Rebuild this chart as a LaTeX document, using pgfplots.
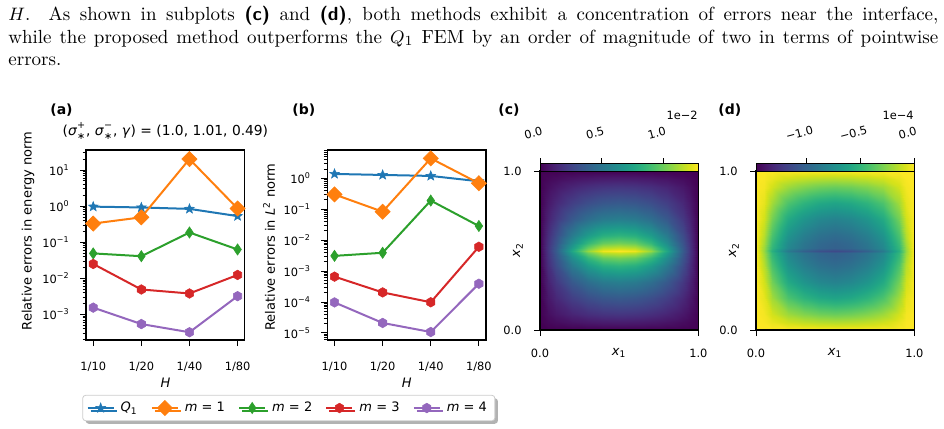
\documentclass[border=0pt]{standalone}
\usepackage{fontspec}
\usepackage{amsmath}
\usepackage{pgfplots}
\pgfplotsset{compat=1.18}
\newfontfamily\dv{DejaVu Sans}[ItalicFont={DejaVu Sans Oblique},BoldFont={DejaVu Sans Bold},BoldItalicFont={DejaVu Sans Bold Oblique}]
\newcommand\cf{\dv\fontsize{6.5}{7.8}\selectfont}
\newcommand\ttf{\dv\fontsize{6.9}{8.2}\selectfont}
\newcommand\tf{\dv\fontsize{5.7}{6.8}\selectfont}
\newcommand\lf{\dv\bfseries\fontsize{7}{8.4}\selectfont}
\definecolor{C0}{HTML}{1F77B4}
\definecolor{C1}{HTML}{FF7F0E}
\definecolor{C2}{HTML}{2CA02C}
\definecolor{C3}{HTML}{D62728}
\definecolor{C4}{HTML}{9467BD}
\pgfdeclareplotmark{mstar}{%
 \pgfpathmoveto{\pgfpointpolar{90}{\pgfplotmarksize}}%
 \pgfpathlineto{\pgfpointpolar{126}{0.42\pgfplotmarksize}}%
 \pgfpathlineto{\pgfpointpolar{162}{\pgfplotmarksize}}%
 \pgfpathlineto{\pgfpointpolar{198}{0.42\pgfplotmarksize}}%
 \pgfpathlineto{\pgfpointpolar{234}{\pgfplotmarksize}}%
 \pgfpathlineto{\pgfpointpolar{270}{0.42\pgfplotmarksize}}%
 \pgfpathlineto{\pgfpointpolar{306}{\pgfplotmarksize}}%
 \pgfpathlineto{\pgfpointpolar{342}{0.42\pgfplotmarksize}}%
 \pgfpathlineto{\pgfpointpolar{18}{\pgfplotmarksize}}%
 \pgfpathlineto{\pgfpointpolar{54}{0.42\pgfplotmarksize}}%
 \pgfpathclose\pgfusepathqfillstroke}
\pgfdeclareplotmark{bdiam}{%
 \pgfpathmoveto{\pgfpoint{0pt}{\pgfplotmarksize}}%
 \pgfpathlineto{\pgfpoint{\pgfplotmarksize}{0pt}}%
 \pgfpathlineto{\pgfpoint{0pt}{-\pgfplotmarksize}}%
 \pgfpathlineto{\pgfpoint{-\pgfplotmarksize}{0pt}}%
 \pgfpathclose\pgfusepathqfillstroke}
\pgfdeclareplotmark{tdiam}{%
 \pgfpathmoveto{\pgfpoint{0pt}{\pgfplotmarksize}}%
 \pgfpathlineto{\pgfpoint{0.68\pgfplotmarksize}{0pt}}%
 \pgfpathlineto{\pgfpoint{0pt}{-\pgfplotmarksize}}%
 \pgfpathlineto{\pgfpoint{-0.68\pgfplotmarksize}{0pt}}%
 \pgfpathclose\pgfusepathqfillstroke}
\pgfdeclareplotmark{hexa}{%
 \pgfpathmoveto{\pgfpointpolar{90}{\pgfplotmarksize}}%
 \pgfpathlineto{\pgfpointpolar{150}{\pgfplotmarksize}}%
 \pgfpathlineto{\pgfpointpolar{210}{\pgfplotmarksize}}%
 \pgfpathlineto{\pgfpointpolar{270}{\pgfplotmarksize}}%
 \pgfpathlineto{\pgfpointpolar{330}{\pgfplotmarksize}}%
 \pgfpathlineto{\pgfpointpolar{30}{\pgfplotmarksize}}%
 \pgfpathclose\pgfusepathqfillstroke}
\tikzset{
 sQ/.style={C0, line width=1pt, mark=mstar, mark size=2.5pt, mark options={fill=C0, line width=0.3pt}},
 s1/.style={C1, line width=1pt, mark=bdiam, mark size=3.8pt, mark options={fill=C1, line width=0.3pt}},
 s2/.style={C2, line width=1pt, mark=tdiam, mark size=2.8pt, mark options={fill=C2, line width=0.3pt}},
 s3/.style={C3, line width=1pt, mark=hexa, mark size=2.4pt, mark options={fill=C3, line width=0.3pt}},
 s4/.style={C4, line width=1pt, mark=hexa, mark size=2.4pt, mark options={fill=C4, line width=0.3pt}}
}
\begin{document}
\begin{tikzpicture}
\path[use as bounding box] (0,0) rectangle (472pt,-214.5pt);
\begin{scope}[font=\fontsize{9.5}{11.25}\selectfont]
\node[anchor=base west, inner sep=0pt] at (4pt,-10.25pt) {\makebox[465pt][s]{$H$. As shown in subplots \textsf{\textbf{(c)}} and \textsf{\textbf{(d)}}, both methods exhibit a concentration of errors near the interface,}};
\node[anchor=base west, inner sep=0pt] at (4pt,-21.5pt) {\makebox[465pt][s]{while the proposed method outperforms the $Q_1$ FEM by an order of magnitude of two in terms of pointwise}};
\node[anchor=base west, inner sep=0pt] at (4pt,-32.75pt) {errors.};
\end{scope}
\node[anchor=west, inner sep=0pt, font=\lf] at (25pt,-55pt) {(a)};
\node[anchor=west, inner sep=0pt, font=\lf] at (146pt,-55pt) {(b)};
\node[anchor=west, inner sep=0pt, font=\lf] at (249pt,-55pt) {(c)};
\node[anchor=west, inner sep=0pt, font=\lf] at (359pt,-55pt) {(d)};
\node[anchor=east, inner sep=0pt, font=\tf] at (349pt,-57.5pt) {1e−2};
\node[anchor=east, inner sep=0pt, font=\tf] at (457pt,-57.5pt) {1e−4};

% (a)
\begin{axis}[at={(43pt,-170pt)}, anchor=south west, scale only axis, width=79.4pt, height=95pt,
 ymode=log, xmin=-0.15, xmax=3.15, ymin=1.95e-4, ymax=36,
 xtick={0,1,2,3}, xticklabels={1/10,1/20,1/40,1/80},
 xtick pos=lower, ytick pos=left, tick align=outside,
 major tick length=3pt, minor tick length=1.7pt,
 every tick/.style={black, line width=0.45pt},
 axis line style={line width=0.6pt},
 tick label style={font=\tf}, label style={font=\cf},
 xticklabel style={anchor=center, yshift=-10.5pt},
 yticklabel style={anchor=east, inner sep=0pt, xshift=-5pt},
 xlabel={\textit{H}}, xlabel style={at={(axis description cs:0.5,-0.226)}, anchor=center},
 clip=false,
 ytick={1e-3,1e-2,1e-1,1,10},
 yticklabels={$\text{10}^{\text{−3}}$,$\text{10}^{\text{−2}}$,$\text{10}^{\text{−1}}$,$\text{10}^{\text{0}}$,$\text{10}^{\text{1}}$},
 minor ytick={2e-4,3e-4,4e-4,5e-4,6e-4,7e-4,8e-4,9e-4,2e-3,3e-3,4e-3,5e-3,6e-3,7e-3,8e-3,9e-3,2e-2,3e-2,4e-2,5e-2,6e-2,7e-2,8e-2,9e-2,0.2,0.3,0.4,0.5,0.6,0.7,0.8,0.9,2,3,4,5,6,7,8,9,20,30},
 ylabel={Relative errors in energy norm},
 ylabel style={at={(axis description cs:-0.365,0.574)}, anchor=center},
 title={($\text{\textit{σ}}^{\text{+}}_{\text{∗}}$, $\text{\textit{σ}}^{\text{−}}_{\text{∗}}$, \textit{γ}) = (1.0, 1.01, 0.49)},
 title style={font=\ttf, at={(axis description cs:0.5,1.037)}, anchor=center, yshift=0pt},
 legend columns=5,
 legend style={at={(1.277,-0.358)}, anchor=center, font=\cf, draw=black!20, fill=white, rounded corners=1.5pt,
  preaction={fill=black!30, transform canvas={xshift=1.5pt, yshift=-1.5pt}},
  inner xsep=2pt, inner ysep=1.2pt,
  /tikz/every odd column/.append style={column sep=1pt},
  /tikz/every even column/.append style={column sep=4.6pt}},
 legend image code/.code={\draw[mark repeat=2, mark phase=2, #1] plot coordinates {(0pt,0pt) (6.5pt,0pt) (13pt,0pt)};}
]
\addplot[sQ] coordinates {(0,0.97) (1,0.92) (2,0.84) (3,0.53)};
\addlegendentry{$\text{\textit{Q}}_{\text{1}}$}
\addplot[s1] coordinates {(0,0.33) (1,0.49) (2,20.2) (3,0.86)};
\addlegendentry{\textit{m} = 1}
\addplot[s2] coordinates {(0,0.049) (1,0.041) (2,0.186) (3,0.063)};
\addlegendentry{\textit{m} = 2}
\addplot[s3] coordinates {(0,0.025) (1,0.0049) (2,0.0038) (3,0.0124)};
\addlegendentry{\textit{m} = 3}
\addplot[s4] coordinates {(0,0.00154) (1,0.00054) (2,0.00032) (3,0.0032)};
\addlegendentry{\textit{m} = 4}
\end{axis}

% (b)
\begin{axis}[at={(163.65pt,-170pt)}, anchor=south west, scale only axis, width=79.4pt, height=95pt,
 ymode=log, xmin=-0.15, xmax=3.15, ymin=5.9e-6, ymax=8.2,
 xtick={0,1,2,3}, xticklabels={1/10,1/20,1/40,1/80},
 xtick pos=lower, ytick pos=left, tick align=outside,
 major tick length=3pt, minor tick length=1.7pt,
 every tick/.style={black, line width=0.45pt},
 axis line style={line width=0.6pt},
 tick label style={font=\tf}, label style={font=\cf},
 xticklabel style={anchor=center, yshift=-10.5pt},
 yticklabel style={anchor=east, inner sep=0pt, xshift=-5pt},
 xlabel={\textit{H}}, xlabel style={at={(axis description cs:0.5,-0.226)}, anchor=center},
 clip=false,
 ytick={1e-5,1e-4,1e-3,1e-2,1e-1,1},
 yticklabels={$\text{10}^{\text{−5}}$,$\text{10}^{\text{−4}}$,$\text{10}^{\text{−3}}$,$\text{10}^{\text{−2}}$,$\text{10}^{\text{−1}}$,$\text{10}^{\text{0}}$},
 minor ytick={6e-6,7e-6,8e-6,9e-6,2e-5,3e-5,4e-5,5e-5,6e-5,7e-5,8e-5,9e-5,2e-4,3e-4,4e-4,5e-4,6e-4,7e-4,8e-4,9e-4,2e-3,3e-3,4e-3,5e-3,6e-3,7e-3,8e-3,9e-3,2e-2,3e-2,4e-2,5e-2,6e-2,7e-2,8e-2,9e-2,0.2,0.3,0.4,0.5,0.6,0.7,0.8,0.9,2,3,4,5,6,7,8},
 ylabel={Relative errors in $\text{\textit{L}}^{\text{2}}$ norm},
 ylabel style={at={(axis description cs:-0.367,0.489)}, anchor=center}]
\addplot[sQ] coordinates {(0,1.38) (1,1.28) (2,1.19) (3,0.8)};
\addplot[s1] coordinates {(0,0.30) (1,0.083) (2,4.4) (3,0.69)};
\addplot[s2] coordinates {(0,0.0031) (1,0.0039) (2,0.19) (3,0.0286)};
\addplot[s3] coordinates {(0,0.00066) (1,0.000204) (2,0.000098) (3,0.0061)};
\addplot[s4] coordinates {(0,9.7e-5) (1,2.1e-5) (2,1.07e-5) (3,3.9e-4)};
\end{axis}

% (c)
\begin{axis}[at={(270pt,-165pt)}, anchor=south west, scale only axis, width=79.2pt, height=79.5pt,
 xmin=0, xmax=1, ymin=0, ymax=1, xtick={0,1}, ytick={0,1},
 xticklabels={0.0,1.0}, yticklabels={0.0,1.0},
 xtick pos=lower, ytick pos=left, tick align=outside, major tick length=3pt,
 every tick/.style={black, line width=0.5pt}, axis line style={line width=0.6pt},
 axis on top, tick label style={font=\tf}, label style={font=\cf},
 xticklabel style={anchor=center, yshift=-8.5pt},
 yticklabel style={anchor=east, inner sep=0pt, xshift=-6pt},
 xlabel={$\text{\textit{x}}_{\text{1}}$}, ylabel={$\text{\textit{x}}_{\text{2}}$},
 xlabel style={at={(axis description cs:0.5,-0.145)}, anchor=center},
 ylabel style={at={(axis description cs:-0.139,0.503)}, anchor=center},
 colormap/viridis, colorbar horizontal,
 point meta min=0, point meta max=1.283,
 colorbar style={at={(0,1)}, anchor=south west, yshift=1.65pt, scale only axis, width=79.2pt, height=3.85pt,
  xtick={0,0.5,1}, xticklabels={0.0,0.5,1.0}, xtick pos=upper, xticklabel pos=upper, tick align=outside,
  major tick length=2.5pt, every tick/.style={black, line width=0.5pt}, axis line style={line width=0.5pt},
  xticklabel style={font=\tf, rotate=15, anchor=center, yshift=13pt}}]
\addplot[surf, shader=interp, mesh/cols=13, point meta=explicit] table[x index=0, y index=1, meta index=2, row sep=\\] {
0 0 0\\0.05 0 0\\0.1 0 0\\0.2 0 0\\0.3 0 0\\0.4 0 0\\0.5 0 0\\0.6 0 0\\0.7 0 0\\0.8 0 0\\0.9 0 0\\0.95 0 0\\1 0 0\\
0 0.05 0\\0.05 0.05 0.023\\0.1 0.05 0.039\\0.2 0.05 0.065\\0.3 0.05 0.084\\0.4 0.05 0.096\\0.5 0.05 0.100\\0.6 0.05 0.096\\0.7 0.05 0.084\\0.8 0.05 0.065\\0.9 0.05 0.039\\0.95 0.05 0.023\\1 0.05 0\\
0 0.1 0\\0.05 0.1 0.045\\0.1 0.1 0.078\\0.2 0.1 0.131\\0.3 0.1 0.169\\0.4 0.1 0.192\\0.5 0.1 0.200\\0.6 0.1 0.192\\0.7 0.1 0.169\\0.8 0.1 0.131\\0.9 0.1 0.078\\0.95 0.1 0.045\\1 0.1 0\\
0 0.2 0\\0.05 0.2 0.081\\0.1 0.2 0.141\\0.2 0.2 0.235\\0.3 0.2 0.304\\0.4 0.2 0.346\\0.5 0.2 0.360\\0.6 0.2 0.346\\0.7 0.2 0.304\\0.8 0.2 0.235\\0.9 0.2 0.141\\0.95 0.2 0.081\\1 0.2 0\\
0 0.3 0\\0.05 0.3 0.119\\0.1 0.3 0.206\\0.2 0.3 0.353\\0.3 0.3 0.460\\0.4 0.3 0.525\\0.5 0.3 0.545\\0.6 0.3 0.525\\0.7 0.3 0.460\\0.8 0.3 0.353\\0.9 0.3 0.206\\0.95 0.3 0.119\\1 0.3 0\\
0 0.4 0\\0.05 0.4 0.163\\0.1 0.4 0.289\\0.2 0.4 0.521\\0.3 0.4 0.696\\0.4 0.4 0.798\\0.5 0.4 0.825\\0.6 0.4 0.798\\0.7 0.4 0.696\\0.8 0.4 0.521\\0.9 0.4 0.289\\0.95 0.4 0.163\\1 0.4 0\\
0 0.45 0\\0.05 0.45 0.182\\0.1 0.45 0.327\\0.2 0.45 0.622\\0.3 0.45 0.851\\0.4 0.45 0.980\\0.5 0.45 1.010\\0.6 0.45 0.980\\0.7 0.45 0.851\\0.8 0.45 0.622\\0.9 0.45 0.327\\0.95 0.45 0.182\\1 0.45 0\\
0 0.485 0\\0.05 0.485 0.191\\0.1 0.485 0.351\\0.2 0.485 0.707\\0.3 0.485 0.990\\0.4 0.485 1.145\\0.5 0.485 1.175\\0.6 0.485 1.145\\0.7 0.485 0.990\\0.8 0.485 0.707\\0.9 0.485 0.351\\0.95 0.485 0.191\\1 0.485 0\\
0 0.5 0\\0.05 0.5 0.196\\0.1 0.5 0.365\\0.2 0.5 0.760\\0.3 0.5 1.078\\0.4 0.5 1.250\\0.5 0.5 1.280\\0.6 0.5 1.250\\0.7 0.5 1.078\\0.8 0.5 0.760\\0.9 0.5 0.365\\0.95 0.5 0.196\\1 0.5 0\\
0 0.515 0\\0.05 0.515 0.191\\0.1 0.515 0.351\\0.2 0.515 0.707\\0.3 0.515 0.990\\0.4 0.515 1.145\\0.5 0.515 1.175\\0.6 0.515 1.145\\0.7 0.515 0.990\\0.8 0.515 0.707\\0.9 0.515 0.351\\0.95 0.515 0.191\\1 0.515 0\\
0 0.55 0\\0.05 0.55 0.182\\0.1 0.55 0.327\\0.2 0.55 0.622\\0.3 0.55 0.851\\0.4 0.55 0.980\\0.5 0.55 1.010\\0.6 0.55 0.980\\0.7 0.55 0.851\\0.8 0.55 0.622\\0.9 0.55 0.327\\0.95 0.55 0.182\\1 0.55 0\\
0 0.6 0\\0.05 0.6 0.163\\0.1 0.6 0.289\\0.2 0.6 0.521\\0.3 0.6 0.696\\0.4 0.6 0.798\\0.5 0.6 0.825\\0.6 0.6 0.798\\0.7 0.6 0.696\\0.8 0.6 0.521\\0.9 0.6 0.289\\0.95 0.6 0.163\\1 0.6 0\\
0 0.7 0\\0.05 0.7 0.119\\0.1 0.7 0.206\\0.2 0.7 0.353\\0.3 0.7 0.460\\0.4 0.7 0.525\\0.5 0.7 0.545\\0.6 0.7 0.525\\0.7 0.7 0.460\\0.8 0.7 0.353\\0.9 0.7 0.206\\0.95 0.7 0.119\\1 0.7 0\\
0 0.8 0\\0.05 0.8 0.081\\0.1 0.8 0.141\\0.2 0.8 0.235\\0.3 0.8 0.304\\0.4 0.8 0.346\\0.5 0.8 0.360\\0.6 0.8 0.346\\0.7 0.8 0.304\\0.8 0.8 0.235\\0.9 0.8 0.141\\0.95 0.8 0.081\\1 0.8 0\\
0 0.9 0\\0.05 0.9 0.045\\0.1 0.9 0.078\\0.2 0.9 0.131\\0.3 0.9 0.169\\0.4 0.9 0.192\\0.5 0.9 0.200\\0.6 0.9 0.192\\0.7 0.9 0.169\\0.8 0.9 0.131\\0.9 0.9 0.078\\0.95 0.9 0.045\\1 0.9 0\\
0 0.95 0\\0.05 0.95 0.023\\0.1 0.95 0.039\\0.2 0.95 0.065\\0.3 0.95 0.084\\0.4 0.95 0.096\\0.5 0.95 0.100\\0.6 0.95 0.096\\0.7 0.95 0.084\\0.8 0.95 0.065\\0.9 0.95 0.039\\0.95 0.95 0.023\\1 0.95 0\\
0 1 0\\0.05 1 0\\0.1 1 0\\0.2 1 0\\0.3 1 0\\0.4 1 0\\0.5 1 0\\0.6 1 0\\0.7 1 0\\0.8 1 0\\0.9 1 0\\0.95 1 0\\1 1 0\\
};
\end{axis}

% (d)
\begin{axis}[at={(378pt,-165pt)}, anchor=south west, scale only axis, width=79.2pt, height=79.5pt,
 xmin=0, xmax=1, ymin=0, ymax=1, xtick={0,1}, ytick={0,1},
 xticklabels={0.0,1.0}, yticklabels={0.0,1.0},
 xtick pos=lower, ytick pos=left, tick align=outside, major tick length=3pt,
 every tick/.style={black, line width=0.5pt}, axis line style={line width=0.6pt},
 axis on top, tick label style={font=\tf}, label style={font=\cf},
 xticklabel style={anchor=center, yshift=-8.5pt},
 yticklabel style={anchor=east, inner sep=0pt, xshift=-6pt},
 xlabel={$\text{\textit{x}}_{\text{1}}$}, ylabel={$\text{\textit{x}}_{\text{2}}$},
 xlabel style={at={(axis description cs:0.5,-0.145)}, anchor=center},
 ylabel style={at={(axis description cs:-0.139,0.503)}, anchor=center},
 colormap/viridis, colorbar horizontal,
 point meta min=-1.463, point meta max=0,
 colorbar style={at={(0,1)}, anchor=south west, yshift=1.65pt, scale only axis, width=79.2pt, height=3.85pt,
  xtick={-1,-0.5,0}, xticklabels={−1.0,−0.5,0.0}, xtick pos=upper, xticklabel pos=upper, tick align=outside,
  major tick length=2.5pt, every tick/.style={black, line width=0.5pt}, axis line style={line width=0.5pt},
  xticklabel style={font=\tf, rotate=15, anchor=center, yshift=13pt}}]
\addplot[surf, shader=interp, mesh/cols=13, point meta=explicit] table[x index=0, y index=1, meta index=2, row sep=\\] {
0 0 0\\0.05 0 0\\0.1 0 0\\0.2 0 0\\0.3 0 0\\0.4 0 0\\0.5 0 0\\0.6 0 0\\0.7 0 0\\0.8 0 0\\0.9 0 0\\0.95 0 0\\1 0 0\\
0 0.05 0\\0.05 0.05 -0.010\\0.1 0.05 -0.047\\0.2 0.05 -0.108\\0.3 0.05 -0.142\\0.4 0.05 -0.164\\0.5 0.05 -0.173\\0.6 0.05 -0.164\\0.7 0.05 -0.142\\0.8 0.05 -0.108\\0.9 0.05 -0.047\\0.95 0.05 -0.010\\1 0.05 0\\
0 0.1 0\\0.05 0.1 -0.022\\0.1 0.1 -0.097\\0.2 0.1 -0.215\\0.3 0.1 -0.278\\0.4 0.1 -0.319\\0.5 0.1 -0.337\\0.6 0.1 -0.319\\0.7 0.1 -0.278\\0.8 0.1 -0.215\\0.9 0.1 -0.097\\0.95 0.1 -0.022\\1 0.1 0\\
0 0.2 0\\0.05 0.2 -0.054\\0.1 0.2 -0.202\\0.2 0.2 -0.411\\0.3 0.2 -0.517\\0.4 0.2 -0.583\\0.5 0.2 -0.612\\0.6 0.2 -0.583\\0.7 0.2 -0.517\\0.8 0.2 -0.411\\0.9 0.2 -0.202\\0.95 0.2 -0.054\\1 0.2 0\\
0 0.3 0\\0.05 0.3 -0.098\\0.1 0.3 -0.309\\0.2 0.3 -0.576\\0.3 0.3 -0.704\\0.4 0.3 -0.782\\0.5 0.3 -0.816\\0.6 0.3 -0.782\\0.7 0.3 -0.704\\0.8 0.3 -0.576\\0.9 0.3 -0.309\\0.95 0.3 -0.098\\1 0.3 0\\
0 0.4 0\\0.05 0.4 -0.154\\0.1 0.4 -0.413\\0.2 0.4 -0.704\\0.3 0.4 -0.836\\0.4 0.4 -0.914\\0.5 0.4 -0.949\\0.6 0.4 -0.914\\0.7 0.4 -0.836\\0.8 0.4 -0.704\\0.9 0.4 -0.413\\0.95 0.4 -0.154\\1 0.4 0\\
0 0.45 0\\0.05 0.45 -0.189\\0.1 0.45 -0.467\\0.2 0.45 -0.761\\0.3 0.45 -0.890\\0.4 0.45 -0.967\\0.5 0.45 -1.000\\0.6 0.45 -0.967\\0.7 0.45 -0.890\\0.8 0.45 -0.761\\0.9 0.45 -0.467\\0.95 0.45 -0.189\\1 0.45 0\\
0 0.485 0\\0.05 0.485 -0.213\\0.1 0.485 -0.497\\0.2 0.485 -0.786\\0.3 0.485 -0.910\\0.4 0.485 -0.984\\0.5 0.485 -1.015\\0.6 0.485 -0.984\\0.7 0.485 -0.910\\0.8 0.485 -0.786\\0.9 0.485 -0.497\\0.95 0.485 -0.213\\1 0.485 0\\
0 0.5 0\\0.05 0.5 -0.230\\0.1 0.5 -0.540\\0.2 0.5 -0.869\\0.3 0.5 -1.015\\0.4 0.5 -1.102\\0.5 0.5 -1.140\\0.6 0.5 -1.102\\0.7 0.5 -1.015\\0.8 0.5 -0.869\\0.9 0.5 -0.540\\0.95 0.5 -0.230\\1 0.5 0\\
0 0.515 0\\0.05 0.515 -0.213\\0.1 0.515 -0.497\\0.2 0.515 -0.786\\0.3 0.515 -0.910\\0.4 0.515 -0.984\\0.5 0.515 -1.015\\0.6 0.515 -0.984\\0.7 0.515 -0.910\\0.8 0.515 -0.786\\0.9 0.515 -0.497\\0.95 0.515 -0.213\\1 0.515 0\\
0 0.55 0\\0.05 0.55 -0.189\\0.1 0.55 -0.467\\0.2 0.55 -0.761\\0.3 0.55 -0.890\\0.4 0.55 -0.967\\0.5 0.55 -1.000\\0.6 0.55 -0.967\\0.7 0.55 -0.890\\0.8 0.55 -0.761\\0.9 0.55 -0.467\\0.95 0.55 -0.189\\1 0.55 0\\
0 0.6 0\\0.05 0.6 -0.154\\0.1 0.6 -0.413\\0.2 0.6 -0.704\\0.3 0.6 -0.836\\0.4 0.6 -0.914\\0.5 0.6 -0.949\\0.6 0.6 -0.914\\0.7 0.6 -0.836\\0.8 0.6 -0.704\\0.9 0.6 -0.413\\0.95 0.6 -0.154\\1 0.6 0\\
0 0.7 0\\0.05 0.7 -0.098\\0.1 0.7 -0.309\\0.2 0.7 -0.576\\0.3 0.7 -0.704\\0.4 0.7 -0.782\\0.5 0.7 -0.816\\0.6 0.7 -0.782\\0.7 0.7 -0.704\\0.8 0.7 -0.576\\0.9 0.7 -0.309\\0.95 0.7 -0.098\\1 0.7 0\\
0 0.8 0\\0.05 0.8 -0.054\\0.1 0.8 -0.202\\0.2 0.8 -0.411\\0.3 0.8 -0.517\\0.4 0.8 -0.583\\0.5 0.8 -0.612\\0.6 0.8 -0.583\\0.7 0.8 -0.517\\0.8 0.8 -0.411\\0.9 0.8 -0.202\\0.95 0.8 -0.054\\1 0.8 0\\
0 0.9 0\\0.05 0.9 -0.022\\0.1 0.9 -0.097\\0.2 0.9 -0.215\\0.3 0.9 -0.278\\0.4 0.9 -0.319\\0.5 0.9 -0.337\\0.6 0.9 -0.319\\0.7 0.9 -0.278\\0.8 0.9 -0.215\\0.9 0.9 -0.097\\0.95 0.9 -0.022\\1 0.9 0\\
0 0.95 0\\0.05 0.95 -0.010\\0.1 0.95 -0.047\\0.2 0.95 -0.108\\0.3 0.95 -0.142\\0.4 0.95 -0.164\\0.5 0.95 -0.173\\0.6 0.95 -0.164\\0.7 0.95 -0.142\\0.8 0.95 -0.108\\0.9 0.95 -0.047\\0.95 0.95 -0.010\\1 0.95 0\\
0 1 0\\0.05 1 0\\0.1 1 0\\0.2 1 0\\0.3 1 0\\0.4 1 0\\0.5 1 0\\0.6 1 0\\0.7 1 0\\0.8 1 0\\0.9 1 0\\0.95 1 0\\1 1 0\\
};
\end{axis}
\end{tikzpicture}
\end{document}
